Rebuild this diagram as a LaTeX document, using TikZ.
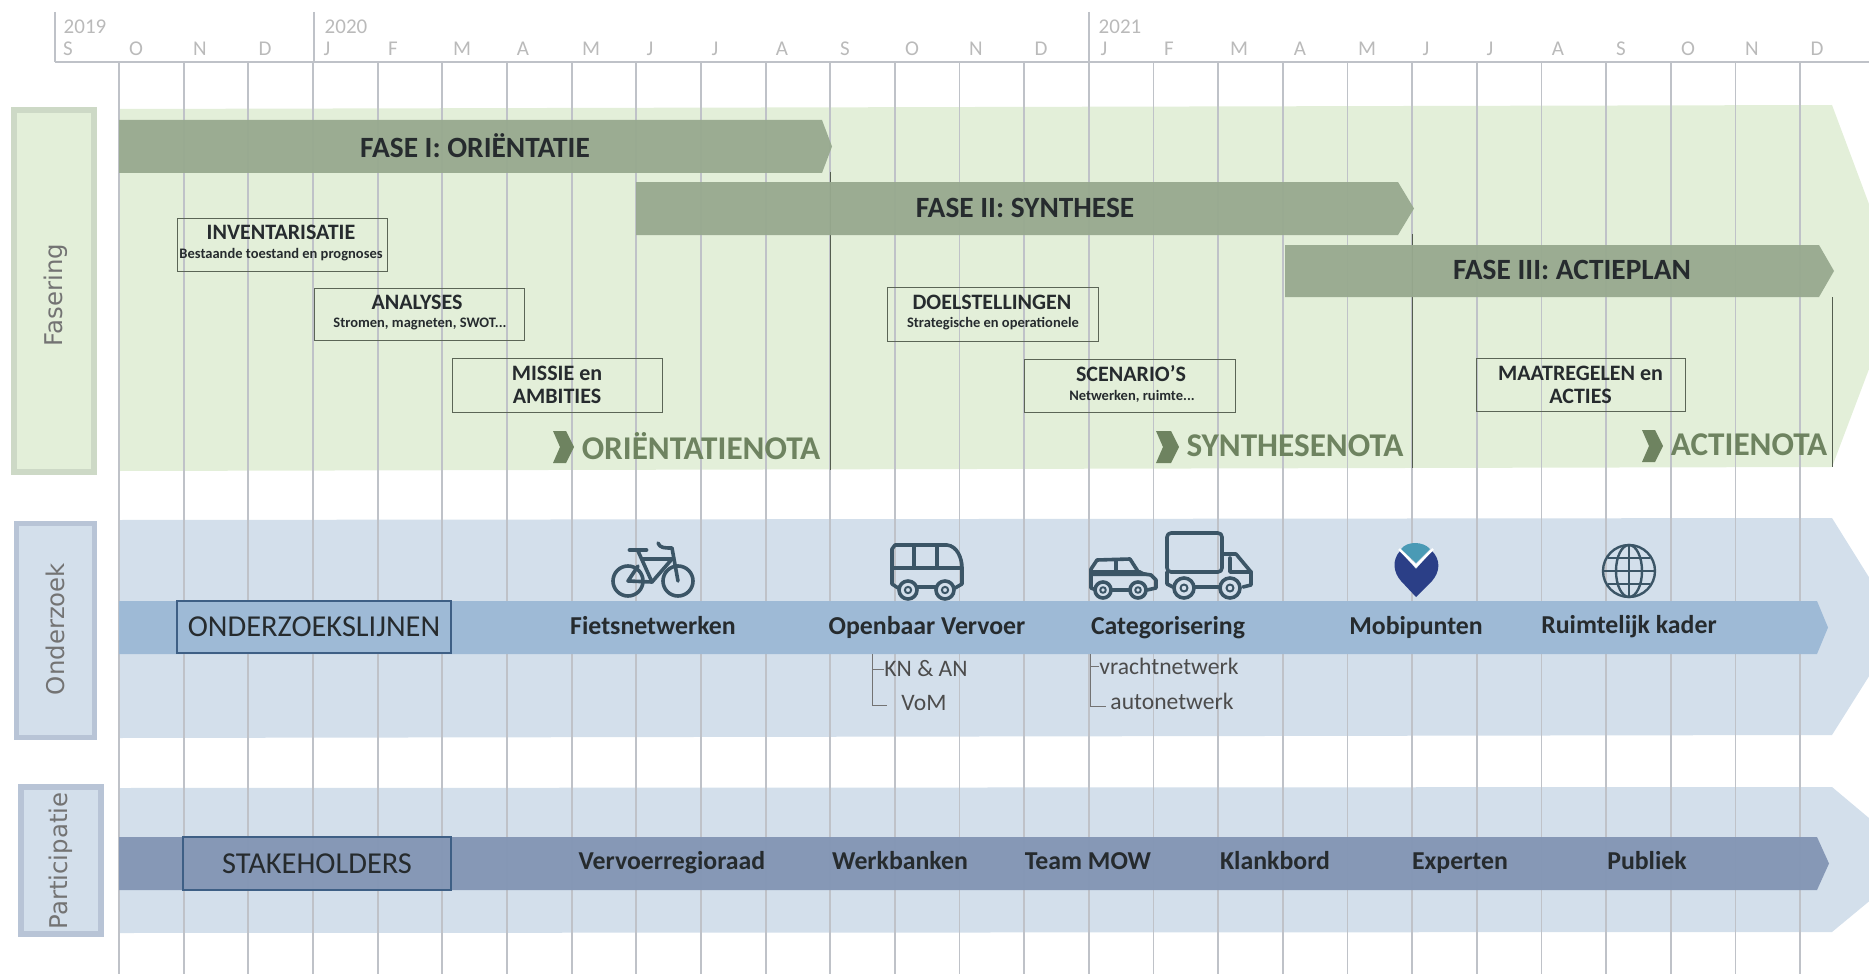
\documentclass[tikz,border=0pt]{standalone}
\usepackage{fontspec}
\setmainfont{Carlito}
\newfontfamily\sidefont{DejaVu Sans}
\usetikzlibrary{calc}
\definecolor{bandgreen}{HTML}{E3EFD9}
\definecolor{bandblue}{HTML}{D3DFEB}
\definecolor{sidegreen}{HTML}{CDD9C6}
\definecolor{sideblue}{HTML}{B8C4D6}
\definecolor{phasegreen}{HTML}{98A98F}
\definecolor{notagreen}{HTML}{6E8360}
\definecolor{lineblue}{HTML}{9EBAD6}
\definecolor{stakeblue}{HTML}{8496B5}
\definecolor{gridgrey}{HTML}{BFC2C8}
\definecolor{iconslate}{HTML}{3B5566}
\definecolor{inktext}{HTML}{262B2E}
\definecolor{pinteal}{HTML}{4A9AB5}
\definecolor{pinnavy}{HTML}{2B3F87}
\definecolor{boxblue}{HTML}{3E5F85}
\tikzset{
	gridline/.style={color=gridgrey, line width=0.9pt},
	timetext/.style={color=black!27, font=\fontsize{10.5}{12}\selectfont},
	phasetext/.style={color=inktext, font=\fontsize{14.7}{16}\selectfont\bfseries},
	taskbox/.style={draw=black!40!phasegreen, line width=0.5pt, text=inktext, inner sep=0pt, align=center},
	tasktitle/.style={font=\fontsize{11}{11.4}\selectfont\bfseries},
	tasksub/.style={font=\fontsize{7.25}{9}\selectfont\bfseries},
	notatext/.style={color=notagreen, font=\fontsize{16.6}{20}\selectfont\bfseries},
	sidetext/.style={color=black!55, rotate=90, font=\sidefont\fontsize{12.2}{14}\selectfont},
	tracklabel/.style={color=inktext, text height=9pt, text depth=3pt, font=\fontsize{12.9}{14}\selectfont\bfseries},
	subtrack/.style={color=black!70, inner sep=0pt, font=\fontsize{11.8}{14}\selectfont},
	trackhead/.style={draw=boxblue, line width=0.6pt, text=inktext, font=\fontsize{15.2}{16}\selectfont, inner sep=0pt},
	iconline/.style={draw=iconslate, line width=1.8pt, line cap=round, line join=round},
	thinicon/.style={draw=iconslate, line width=1.2pt},
	bracket/.style={color=black!55, line width=0.5pt},
	noteline/.style={color=black!45!phasegreen, line width=0.5pt},
}
% from x, top, bottom, shoulder, tip
\def\longarrow[#1](#2:#3:#4)(#5:#6){\fill[#1] (#2,#3) -- (#5,#3) -- (#6,{(#3+#4)/2}) -- (#5,#4) -- (#2,#4) -- cycle;}
\def\wheel(#1,#2:#3){\draw[iconline, fill=bandblue] (#1,#2) circle (#3); \draw[iconline, line width=1pt] (#1,#2) circle ({#3*0.35});}
\begin{document}
\begin{tikzpicture}[x=0.5pt, y=-0.5pt]
	\useasboundingbox (0,0) rectangle (1869,974);
	\clip (0,0) rectangle (1869,974);

	%%%%% BANDS %%%%%
	\fill[bandgreen] (119,109) -- (1832,105) -- (1900,287) -- (1832,467) -- (119,471) -- cycle;
	\fill[bandblue] (119,520) -- (1832,518) -- (1900,627) -- (1832,735) -- (119,738) -- cycle;
	\fill[bandblue] (119,788) -- (1832,787) -- (1919,860) -- (1832,932) -- (119,933) -- cycle;

	%%%%% TIME AXIS %%%%%
	\foreach \k in {0,...,26} {
		\draw[gridline] ({119+64.66*\k},62) -- ({119+64.66*\k},974);
	}
	\draw[gridline] (55,62) -- (1869,62);
	\foreach \x in {55,314,1089} {
		\draw[gridline] (\x,12) -- (\x,62);
	}
	\node[timetext] (y2019) at (85,27) {2019};
	\node[timetext] (y2020) at (346,27) {2020};
	\node[timetext] (y2021) at (1120,27) {2021};
	\foreach \x/\m [count=\i] in {68/S,136/O,200/N,265/D,327/J,393/F,462/M,523/A,591/M,650/J,715/J,782/A,845/S,912/O,976/N,1041/D,1104/J,1169/F,1239/M,1300/A,1367/M,1426/J,1490/J,1558/A,1621/S,1688/O,1752/N,1817/D} {
		\node[timetext] (m\i) at (\x,49) {\m};
	}

	%%%%% FASERING %%%%%
	\draw[fill=bandgreen, draw=sidegreen, line width=3pt] (14,110) rectangle (94,472);
	\node[sidetext] (fasering) at (56,295) {Fasering};

	\draw[noteline] (830,172) -- (830,470);
	\draw[noteline] (1412,234) -- (1412,468);
	\draw[noteline] (1832,297) -- (1832,467);

	\longarrow[phasegreen, opacity=0.95](119:120:173)(822:832);
	\longarrow[phasegreen, opacity=0.95](636:182:235)(1398:1414);
	\longarrow[phasegreen, opacity=0.95](1285:245:297)(1819:1834);
	\node[phasetext] (fase1) at (475,146) {FASE I: ORIËNTATIE};
	\node[phasetext] (fase2) at (1025,208) {FASE II: SYNTHESE};
	\node[phasetext] (fase3) at (1572,270) {FASE III: ACTIEPLAN};

	\node[taskbox, minimum width=105pt, minimum height=26.5pt] (inventaris) at (282,244.5) {};
	\node[tasktitle, color=inktext] (inventaristitle) at (281,232) {INVENTARISATIE};
	\node[tasksub, color=inktext] (inventarissub) at (281,255) {Bestaande toestand en prognoses};

	\node[taskbox, minimum width=105pt, minimum height=26pt] (analyses) at (419,314) {};
	\node[tasktitle, color=inktext] (analysestitle) at (417,302) {ANALYSES};
	\node[tasksub, color=inktext] (analysessub) at (420,324) {Stromen, magneten, SWOT...};

	\node[taskbox, tasktitle, minimum width=105pt, minimum height=27pt] (missie) at (557,385) {MISSIE en\\AMBITIES};

	\node[taskbox, minimum width=105.5pt, minimum height=27pt] (doelen) at (992.5,314) {};
	\node[tasktitle, color=inktext] (doelentitle) at (992,302) {DOELSTELLINGEN};
	\node[tasksub, color=inktext] (doelensub) at (993,324) {Strategische en operationele};

	\node[taskbox, minimum width=105.5pt, minimum height=26.5pt] (scenarios) at (1129.5,385.5) {};
	\node[tasktitle, color=inktext] (scenariostitle) at (1131,374) {SCENARIO'S};
	\node[tasksub, color=inktext] (scenariossub) at (1132,396) {Netwerken, ruimte...};

	\node[taskbox, tasktitle, minimum width=104.5pt, minimum height=26.5pt] (maatregelen) at (1580.5,384.5) {MAATREGELEN en\\ACTIES};

	\fill[notagreen] (553,431) -- (566,431) -- (574,447) -- (566,463) -- (553,463) -- (560,447) -- cycle;
	\fill[notagreen] (1156,431) -- (1171,431) -- (1179,447) -- (1171,463) -- (1156,463) -- (1163,447) -- cycle;
	\fill[notagreen] (1642,430) -- (1655,430) -- (1663,446) -- (1655,462) -- (1642,462) -- (1649,446) -- cycle;
	\node[notatext] (orientatienota) at (701,446) {ORIËNTATIENOTA};
	\node[notatext] (synthesenota) at (1295,446) {SYNTHESENOTA};
	\node[notatext] (actienota) at (1749,445) {ACTIENOTA};

	%%%%% ONDERZOEK %%%%%
	\draw[fill=bandblue, draw=sideblue, line width=2.5pt] (16,523) rectangle (94,737);
	\node[sidetext] (onderzoek) at (55,629) {Onderzoek};

	\longarrow[lineblue](119:601:654)(1817:1828);
	\node[trackhead, minimum width=137pt, minimum height=26pt] (onderzoekslijnen) at (314,627) {ONDERZOEKSLIJNEN};
	\node[tracklabel] (fiets) at (653,628) {Fietsnetwerken};
	\node[tracklabel] (ov) at (927,628) {Openbaar Vervoer};
	\node[tracklabel] (categorie) at (1168,628) {Categorisering};
	\node[tracklabel] (mobi) at (1416,628) {Mobipunten};
	\node[tracklabel] (ruimte) at (1629,627) {Ruimtelijk kader};

	\node[subtrack] (knan) at (926,669) {KN \& AN};
	\node[subtrack] (vom) at (924,703) {VoM};
	\node[subtrack] (vracht) at (1169,666) {vrachtnetwerk};
	\node[subtrack] (auto) at (1172,701) {autonetwerk};
	\coordinate (ovtop) at (872,654);
	\coordinate (cattop) at (1090,654);
	\coordinate (ovlow) at (887,705);
	\coordinate (catlow) at (1106,706);
	\draw[bracket] (ovtop) |- (ovlow);
	\draw[bracket] (ovtop |- knan) -- (knan.west);
	\draw[bracket] (cattop) |- (catlow);
	\draw[bracket] (cattop |- vracht) -- (vracht.west);

	% bike
	\draw[iconline] (628,581) circle (15);
	\draw[iconline] (678,581) circle (15);
	\draw[iconline, line width=2.4pt] (630,550) -- (646,550);
	\draw[iconline] (638,551) -- (652,582) -- (628,581) -- (638,566);
	\draw[iconline] (642,559) -- (672,559) -- (652,582);
	\draw[iconline] (658,543) .. controls (660,548) and (664,548) .. (672,548) -- (678,581);

	% bus
	\draw[iconline] (898,588) -- (892,584) -- (892,549) -- (895,545) -- (947,545) .. controls (957,546) and (962,558) .. (962,568) -- (962,584) -- (955,588);
	\draw[iconline] (892,568) -- (962,568);
	\draw[iconline] (914,545) -- (914,568);
	\draw[iconline] (937,545) -- (937,568);
	\draw[iconline] (917,587) -- (936,587);
	\wheel(908,590:9)
	\wheel(945,590:9)

	% car
	\draw[iconline] (1096,590) -- (1091,588) -- (1091,569) -- (1097,560) -- (1130,559) -- (1139,573) -- (1151,575) -- (1156,580) -- (1156,588) -- (1147,590);
	\fill[iconslate] (1091,570) -- (1140,570) -- (1150,576) -- (1091,576) -- cycle;
	\draw[iconline] (1116,560) -- (1116,571);
	\draw[iconline] (1110,590) -- (1130,590);
	\wheel(1103,590:8)
	\wheel(1138,590:8)

	% truck
	\draw[iconline, rounded corners=2pt] (1167,533) rectangle (1222,572);
	\draw[iconline] (1222,554) -- (1236,554) -- (1251,572) -- (1251,585) -- (1243,587);
	\draw[iconline] (1230,558) -- (1230,572) -- (1251,572);
	\draw[iconline] (1167,572) -- (1167,584) -- (1173,587);
	\draw[iconline] (1195,587) -- (1219,587);
	\wheel(1184,588:10)
	\wheel(1230,588:10)

	% pin
	\fill[pinteal] (1401,549) .. controls (1407,541) and (1423,541) .. (1430,549) -- (1416,563) -- cycle;
	\fill[pinnavy] (1400,551) -- (1416,569) -- (1432,551) .. controls (1441,560) and (1440,572) .. (1432,581) -- (1416,597) -- (1401,581) .. controls (1393,572) and (1392,560) .. (1400,551) -- cycle;
	\draw[color=white, line width=1.2pt] (1399,549) -- (1416,566) -- (1433,549);

	% globe
	\draw[thinicon] (1629,571) circle (26);
	\draw[thinicon] (1629,571) ellipse [x radius=13, y radius=26];
	\draw[thinicon] (1629,545) -- (1629,597);
	\draw[thinicon] (1603,571) -- (1655,571);
	\draw[thinicon] (1608,558) -- (1650,558);
	\draw[thinicon] (1608,584) -- (1650,584);

	%%%%% PARTICIPATIE %%%%%
	\draw[fill=bandblue, draw=sideblue, line width=3pt] (21,787) rectangle (101,934);
	\node[sidetext] (participatie) at (61,861) {Participatie};

	\longarrow[stakeblue, opacity=0.97](119:837:890)(1817:1829);
	\node[trackhead, minimum width=134pt, minimum height=26.5pt] (stakeholders) at (317,863.5) {STAKEHOLDERS};
	\node[tracklabel] (vervoer) at (672,863) {Vervoerregioraad};
	\node[tracklabel] (werkbank) at (900,863) {Werkbanken};
	\node[tracklabel] (team) at (1088,863) {Team MOW};
	\node[tracklabel] (klankbord) at (1275,863) {Klankbord};
	\node[tracklabel] (experten) at (1460,863) {Experten};
	\node[tracklabel] (publiek) at (1647,863) {Publiek};
\end{tikzpicture}
\end{document}
